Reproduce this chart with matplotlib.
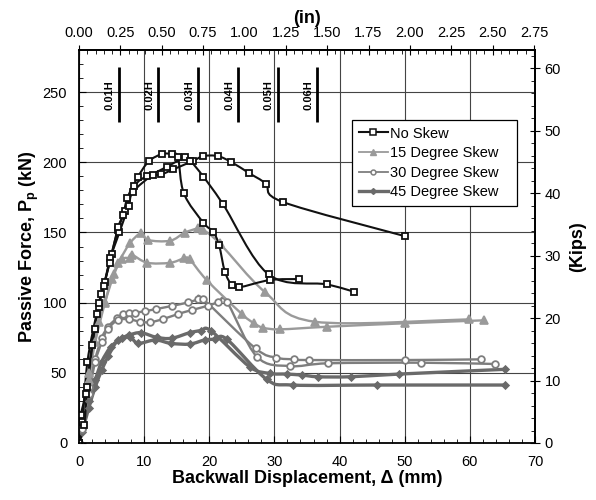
import matplotlib
matplotlib.use("Agg")
import matplotlib.pyplot as plt
import numpy as np
from matplotlib.ticker import MultipleLocator
from matplotlib.lines import Line2D
from matplotlib.path import Path
from matplotlib.patches import PathPatch

plt.rcParams['font.family'] = ['Liberation Sans', 'DejaVu Sans']
plt.rcParams['mathtext.fontset'] = 'custom'
plt.rcParams['mathtext.rm'] = 'Liberation Sans:bold'
plt.rcParams['mathtext.it'] = 'Liberation Sans:bold'
plt.rcParams['mathtext.bf'] = 'Liberation Sans:bold'

# ---------------- data (mm, kN) ----------------
ns1_x = [0, 0.8, 1.3, 2.4, 3.1, 3.4, 4.7, 6.0, 6.8, 7.4, 9.0, 10.7, 12.7, 14.3, 15.2, 16.1, 19.1, 20.6, 21.5, 22.4, 23.5, 24.6, 29.3, 33.8]
ns1_y = [0, 13, 40, 81, 100, 106, 128, 153.6, 162.4, 174.3, 189.2, 200.6, 205.8, 205.8, 203.5, 177.8, 156.9, 150.5, 141, 122, 112.3, 110.9, 116.1, 116.8]
ns2_x = [0, 0.5, 1.3, 2.7, 3.8, 4.8, 6.2, 7.6, 8.3, 11.3, 13.5, 16.3, 17.1, 19.1, 22.1, 29.1, 38.0, 42.2]
ns2_y = [0, 15, 58, 92, 112, 131.5, 150, 168.8, 179, 191.1, 196.8, 203.5, 201.1, 189.7, 170.2, 120.1, 113.0, 107.8]
ns3_x = [0, 0.3, 1.0, 2.0, 3.0, 4.0, 5.0, 6.0, 7.0, 8.5, 10.5, 12.6, 14.5, 17.5, 19.1, 21.3, 23.4, 26.1, 28.7, 31.3, 50.0]
ns3_y = [0, 20, 35, 70, 97, 115, 135, 152, 165, 183, 190.2, 191.4, 195, 201, 204.4, 204.4, 200.1, 192.3, 184.7, 171.7, 147.4]

s15a_x = [0, 0.5, 1.5, 3.0, 4.0, 5.0, 6.0, 7.8, 9.5, 10.6, 14.0, 16.2, 18.3, 19.1, 21.6, 28.6, 36.2, 59.9]
s15a_y = [0, 18, 50, 86.4, 100.6, 117, 128, 142.2, 149.3, 144.6, 144.1, 149.8, 152.9, 151.7, 142.2, 107.3, 86.4, 88.1]
s15b_x = [0, 0.5, 1.5, 2.5, 4.0, 5.4, 6.6, 7.8, 8.2, 10.5, 14.0, 16.1, 17.0, 19.6, 25.0, 26.9, 28.3, 30.9, 38.0, 50.0, 62.2]
s15b_y = [0, 15, 45, 72, 100, 120.4, 130.8, 132, 133.9, 128.4, 128.4, 131.5, 130.8, 116.1, 91.9, 85.2, 82.1, 81.0, 82.8, 85.3, 87.4]

s30a_x = [0, 0.5, 1.5, 2.5, 3.5, 4.5, 5.8, 6.7, 7.7, 8.6, 10.2, 11.8, 14.2, 16.8, 18.3, 19.1, 27.1, 30.3, 33.0, 35.3, 50.0, 61.7]
s30a_y = [0, 12, 40, 60, 75, 83, 88.8, 91.6, 92.4, 92.8, 94, 95.4, 97.6, 100.2, 102.3, 102.3, 67.4, 60.8, 59.6, 59.1, 59.1, 59.6]
s30b_x = [0, 0.5, 1.5, 2.5, 3.5, 4.4, 6.0, 7.7, 9.4, 10.9, 12.9, 15.2, 17.3, 19.8, 21.4, 22.7, 27.3, 32.4, 38.3, 52.5, 63.8]
s30b_y = [0, 10, 35, 58, 72, 81.2, 87.6, 88.1, 86.4, 86, 88.3, 91.9, 94.7, 97.8, 100.2, 100.6, 61.5, 54.8, 56.8, 57.2, 56.3]

s45a_x = [0, 0.5, 1.5, 2.5, 3.5, 4.9, 6.6, 7.7, 9.5, 11.9, 14.2, 17.0, 18.7, 20.3, 26.2, 29.3, 31.9, 34.2, 36.7, 41.7, 49.1, 65.4]
s45a_y = [0, 10, 30, 45, 58, 68.6, 74.6, 76.9, 78.6, 75.3, 74.6, 78.6, 80, 79.8, 54.3, 49.6, 49.1, 48.4, 47.2, 47.2, 49.1, 52.5]
s45b_x = [0, 0.5, 1.5, 2.5, 3.5, 4.5, 6.0, 7.8, 9.1, 11.7, 14.1, 17.0, 19.3, 20.9, 22.7, 28.8, 32.8, 45.7, 65.4]
s45b_y = [0, 8, 25, 40, 52, 62, 73.4, 75.3, 71, 73.4, 71, 70.5, 73.4, 73.9, 73.9, 45.4, 41.3, 41.3, 41.3]

series_labels = ["No Skew", "15 Degree Skew", "30 Degree Skew", "45 Degree Skew"]
h_fracs = [0.01, 0.02, 0.03, 0.04, 0.05, 0.06]
h_labels = ["0.01H", "0.02H", "0.03H", "0.04H", "0.05H", "0.06H"]
wall_height_mm = 610.0


def smooth_path(xs, ys):
    """Excel-style smoothed line: cubic Bezier segments through the data points."""
    p = np.column_stack([xs, ys]).astype(float)
    n = len(p)
    verts = [p[0]]
    codes = [Path.MOVETO]
    for i in range(n - 1):
        p0 = p[i - 1] if i > 0 else p[i]
        p1 = p[i]
        p2 = p[i + 1]
        p3 = p[i + 2] if i + 2 < n else p[i + 1]
        c1 = p1 + (p2 - p0) / 6.0
        c2 = p2 - (p3 - p1) / 6.0
        verts += [c1, c2, p2]
        codes += [Path.CURVE4] * 3
    return Path(verts, codes)


def draw(ax, xs, ys, color, lw, marker, ms, mfc, mew=1.2):
    ax.add_patch(PathPatch(smooth_path(xs, ys), fill=False, edgecolor=color, lw=lw,
                           capstyle='round', joinstyle='round'))
    ax.plot(xs, ys, ls='none', marker=marker, ms=ms, mfc=mfc, mec=color, mew=mew)


# ---------------- figure ----------------
fig = plt.figure(figsize=(5.96, 5.0), dpi=100)
ax = fig.add_axes([79/596, 1-443/500, (535-79)/596, (443-50)/500])

ax.set_xlim(0, 70)
ax.set_ylim(0, 280)
ax.xaxis.set_major_locator(MultipleLocator(10))
ax.xaxis.set_minor_locator(MultipleLocator(2))
ax.yaxis.set_minor_locator(MultipleLocator(10))
ax.set_yticks([0, 50, 100, 150, 200, 250])
ax.grid(True, which='major', color='#444444', lw=0.8)
ax.set_axisbelow(True)
ax.tick_params(which='both', direction='in', labelsize=10.5, color='black')
ax.tick_params(which='major', length=5, pad=8.5)
ax.tick_params(which='minor', length=3)
for s in ax.spines.values():
    s.set_linewidth(1.3)

c45, c30, c15, c0 = '#6a6a6a', '#7e7e7e', '#9a9a9a', '#111111'

draw(ax, s45a_x, s45a_y, c45, 2.4, 'D', 3.5, c45)
draw(ax, s45b_x, s45b_y, c45, 2.4, 'D', 3.5, c45)
draw(ax, s30a_x, s30a_y, c30, 1.7, 'o', 4.8, 'white', 1.3)
draw(ax, s30b_x, s30b_y, c30, 1.7, 'o', 4.8, 'white', 1.3)
draw(ax, s15a_x, s15a_y, c15, 1.7, '^', 5.5, c15)
draw(ax, s15b_x, s15b_y, c15, 1.7, '^', 5.5, c15)
draw(ax, ns3_x, ns3_y, c0, 1.5, 's', 4.6, 'white', 1.3)
draw(ax, ns2_x, ns2_y, c0, 1.5, 's', 4.6, 'white', 1.3)
draw(ax, ns1_x, ns1_y, c0, 1.5, 's', 4.6, 'white', 1.3)

# H markers
for f, lab in zip(h_fracs, h_labels):
    xm = f * wall_height_mm
    ax.plot([xm, xm], [228.5, 268], color='black', lw=2.0, solid_capstyle='butt')
    ax.text(xm - 1.35, 248, lab, rotation=90, ha='center', va='center',
            fontsize=8, fontweight='bold')

handles = [Line2D([], [], color=c0, lw=1.5, marker='s', ms=4, mfc='white', mec=c0, mew=1.1),
           Line2D([], [], color=c15, lw=1.3, marker='^', ms=4, mfc=c15, mec=c15),
           Line2D([], [], color=c30, lw=1.3, marker='o', ms=3.5, mfc='white', mec=c30, mew=1.1),
           Line2D([], [], color=c45, lw=2.4, marker='D', ms=3, mfc=c45, mec=c45)]
leg = ax.legend(handles, series_labels, loc='upper left',
                bbox_to_anchor=(0.5987, 0.50, 0.3618, 0.3219), mode='expand',
                fontsize=10.5, frameon=True, fancybox=False, edgecolor='black',
                handlelength=2.0, handletextpad=0.15, borderpad=0.45, labelspacing=0.38,
                borderaxespad=0)
leg.get_frame().set_linewidth(0.9)
leg.get_frame().set_alpha(1)

ax.set_xlabel('Backwall Displacement, Δ (mm)', fontsize=13, fontweight='bold', labelpad=1)
ax.set_ylabel(r'Passive Force, P$_\mathregular{p}$ (kN)', fontsize=13, fontweight='bold', labelpad=1)

# top axis (in)
top = ax.secondary_xaxis('top', functions=(lambda v: v / 25.4, lambda v: v * 25.4))
top.set_xticks([0, 0.25, 0.5, 0.75, 1.0, 1.25, 1.5, 1.75, 2.0, 2.25, 2.5, 2.75])
top.set_xticklabels(['0.00', '0.25', '0.50', '0.75', '1.00', '1.25', '1.50', '1.75', '2.00', '2.25', '2.50', '2.75'])
top.xaxis.set_minor_locator(MultipleLocator(0.05))
top.tick_params(which='major', direction='inout', length=7, labelsize=10.5)
top.tick_params(which='minor', direction='in', length=3)
top.set_xlabel('(in)', fontsize=13, fontweight='bold', labelpad=2)
top.spines['top'].set_linewidth(1.3)

# right axis (kips)
right = ax.secondary_yaxis('right', functions=(lambda v: v / 4.448, lambda v: v * 4.448))
right.set_yticks([0, 10, 20, 30, 40, 50, 60])
right.yaxis.set_minor_locator(MultipleLocator(2))
right.tick_params(which='major', direction='inout', length=7, labelsize=10.5)
right.tick_params(which='minor', direction='in', length=3)
right.set_ylabel('(Kips)', fontsize=13, fontweight='bold', labelpad=6)
right.spines['right'].set_linewidth(1.3)

fig.savefig('out.png', dpi=100)
